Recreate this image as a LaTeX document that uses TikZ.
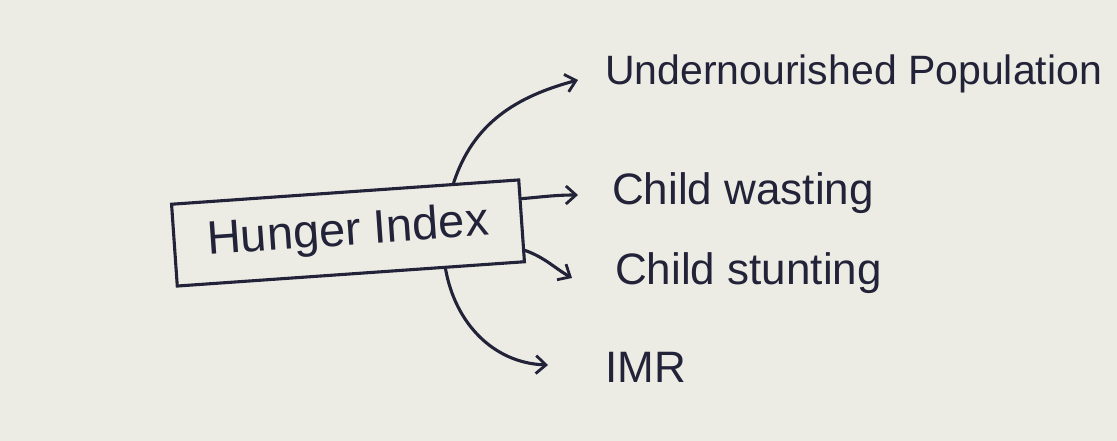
\documentclass[tikz,border=0pt]{standalone}
\usepackage{fontspec}
\setmainfont{Liberation Sans}
\usetikzlibrary{arrows.meta,calc}
\definecolor{paper}{RGB}{236,236,229}
\definecolor{ink}{RGB}{34,34,56}
\begin{document}
\begin{tikzpicture}[x=1pt,y=1pt,
  ink/.style={draw=ink,line width=3.1pt,line cap=round},
  link/.style={ink,-{Straight Barb[length=10pt,width=18pt,line width=2.8pt]}},
  lbl/.style={text=ink,anchor=base west,inner sep=0pt,font=\fontsize{44}{48}\selectfont},
  hbox/.style={ink,minimum width=348,minimum height=82,inner sep=0pt,rotate=4,
    text=ink,font=\fontsize{47}{50}\selectfont}]
\fill[paper] (0,0) rectangle (1117,441);
\useasboundingbox (0,0) rectangle (1117,441);
\node[hbox] (hunger) at (348,208) {Hunger Index};
\node[lbl,font=\fontsize{41}{45}\selectfont] (t1) at (605,356) {Undernourished Population};
\node[lbl] (t2) at (612,236) {Child wasting};
\node[lbl] (t3) at (615,156) {Child stunting};
\node[lbl] (t4) at (605,58) {IMR};
\coordinate (e1) at (578,361);
\coordinate (e2) at (578,246);
\coordinate (e3) at (572,163);
\coordinate (e4) at (548,76);
\draw[link] ($(hunger.north west)!0.81!(hunger.north east)$) to[out=72,in=195] (e1);
\draw[link] ($(hunger.north east)!0.24!(hunger.south east)$) to[out=5,in=180] (e2);
\draw[link] ($(hunger.north east)!0.85!(hunger.south east)$) to[out=-20,in=150] (e3);
\draw[link] ($(hunger.south west)!0.77!(hunger.south east)$) to[out=-80,in=178] (e4);
\end{tikzpicture}
\end{document}
